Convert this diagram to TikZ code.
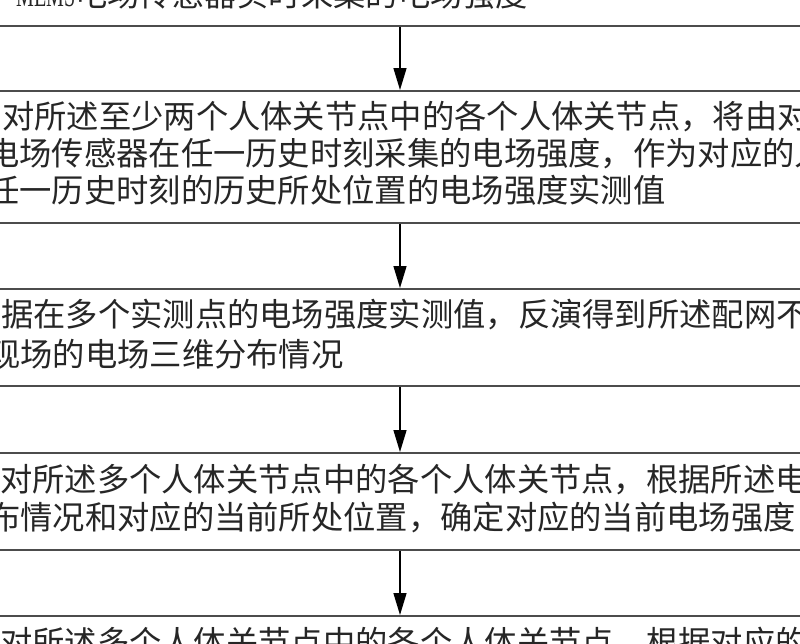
\documentclass[tikz,border=0pt]{standalone}
\usepackage{fontspec}
\usepackage{graphicx}
\newfontfamily\cjk{Noto Sans CJK SC}
\newfontfamily\lat{Liberation Serif}
\usetikzlibrary{arrows.meta}

\begin{document}
\begin{tikzpicture}[x=1pt, y=-1pt,
	stepbox/.style={rectangle, draw=black!70, line width=2pt, minimum width=1000pt, inner sep=0pt},
	steptext/.style={anchor=base west, inner sep=0pt, text=black!85, font=\cjk\fontsize{32.3pt}{37.5pt}\selectfont},
	flow/.style={-{Triangle[length=22pt, width=13pt]}, line width=1.4pt, color=black}]
	\useasboundingbox (0,0) rectangle (800,643);
	\clip (0,0) rectangle (800,643);

	\node[stepbox, minimum height=126pt](one) at (400,-37){};
	\node[stepbox, minimum height=132pt](two) at (400,157){};
	\node[stepbox, minimum height=97pt](three) at (400,337.5){};
	\node[stepbox, minimum height=97pt](four) at (400,501.5){};
	\node[stepbox, minimum height=126pt](five) at (400,679){};

	\node[steptext](onea) at (16,6){{\lat\scalebox{0.62}[1]{MEMS}}电场传感器实时采集的电场强度};

	\node[steptext](twoa) at (2,128){对所述至少两个人体关节点中的各个人体关节点，将由对};
	\node[steptext](twob) at (-13,165){电场传感器在任一历史时刻采集的电场强度，作为对应的人};
	\node[steptext](twoc) at (-13,202){任一历史时刻的历史所处位置的电场强度实测值};

	\node[steptext](threea) at (1,326){据在多个实测点的电场强度实测值，反演得到所述配网不};
	\node[steptext](threeb) at (-12,366){现场的电场三维分布情况};

	\node[steptext](foura) at (0,491){对所述多个人体关节点中的各个人体关节点，根据所述电};
	\node[steptext](fourb) at (-12,529){布情况和对应的当前所处位置，确定对应的当前电场强度};

	\node[steptext](fivea) at (0,654){对所述多个人体关节点中的各个人体关节点，根据对应的};

	\draw [flow] (one.south) -- (two.north);
	\draw [flow] (two.south) -- (three.north);
	\draw [flow] (three.south) -- (four.north);
	\draw [flow] (four.south) -- (five.north);
\end{tikzpicture}
\end{document}
